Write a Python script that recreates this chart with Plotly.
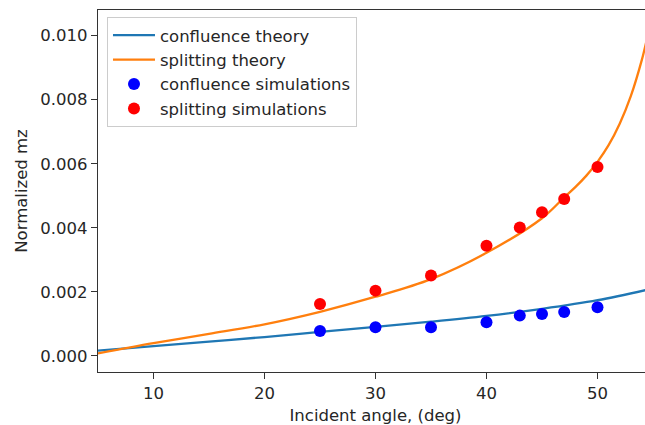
import plotly.graph_objects as go

# Theory curves
conf_theory_x = [5, 10, 15, 20, 25, 30, 35, 40, 45, 50, 55]
conf_theory_y = [0.00017, 0.00031, 0.00045, 0.00059, 0.00075, 0.00091,
                 0.00107, 0.00125, 0.00147, 0.00174, 0.00211]

split_theory_x = [5, 10, 15, 20, 25, 30, 35, 40, 45, 47, 48, 49, 50, 51, 52, 53, 54, 54.5, 55]
split_theory_y = [0.00008, 0.00040, 0.00069, 0.00099, 0.00138, 0.00185,
                  0.00240, 0.00322, 0.00430, 0.00495, 0.00527, 0.00563,
                  0.00606, 0.00658, 0.00725, 0.00811, 0.00925, 0.00997, 0.01080]

# Simulations
sim_angles = [25, 30, 35, 40, 43, 45, 47, 50]
conf_sim = [0.00078, 0.00090, 0.00090, 0.00105, 0.00126, 0.00131, 0.00137, 0.00152]
split_sim = [0.00162, 0.00204, 0.00251, 0.00344, 0.00401, 0.00449, 0.00490, 0.00590]

font = "DejaVu Sans, Liberation Sans, sans-serif"
fs = 16.5
txt = "#262626"

fig = go.Figure()
fig.add_trace(go.Scatter(x=conf_theory_x, y=conf_theory_y, mode="lines",
                         line=dict(color="#1f77b4", width=2.3, shape="spline", smoothing=1.0),
                         name="confluence theory"))
fig.add_trace(go.Scatter(x=split_theory_x, y=split_theory_y, mode="lines",
                         line=dict(color="#ff7f0e", width=2.3, shape="spline", smoothing=1.0),
                         name="splitting theory"))
fig.add_trace(go.Scatter(x=sim_angles, y=conf_sim, mode="markers",
                         marker=dict(color="blue", size=12),
                         name="confluence simulations"))
fig.add_trace(go.Scatter(x=sim_angles, y=split_sim, mode="markers",
                         marker=dict(color="red", size=12),
                         name="splitting simulations"))

axis_common = dict(showgrid=False, zeroline=False, showline=True, linecolor="#333333",
                   linewidth=1.2, ticks="outside", ticklen=6, tickcolor="#333333",
                   tickwidth=1.2,
                   tickfont=dict(family=font, size=fs, color=txt))

fig.update_layout(
    width=653, height=425,
    margin=dict(l=98, r=0, t=10, b=53),
    plot_bgcolor="white", paper_bgcolor="white",
    font=dict(family=font, size=fs, color=txt),
    xaxis=dict(range=[5, 55], tickvals=[10, 20, 30, 40, 50], mirror=True,
               title=dict(text="Incident angle, (deg)", standoff=8,
                          font=dict(family=font, size=fs, color=txt)),
               **axis_common),
    yaxis=dict(range=[-0.0005, 0.0108], tickvals=[0, 0.002, 0.004, 0.006, 0.008, 0.010],
               tickformat=".3f", mirror=False,
               title=dict(text="Normalized mz", standoff=8,
                          font=dict(family=font, size=fs, color=txt)),
               **axis_common),
    legend=dict(x=0.0162, y=0.981, xanchor="left", yanchor="top",
                bgcolor="rgba(255,255,255,0.9)", bordercolor="#cccccc", borderwidth=1,
                font=dict(family=font, size=fs, color=txt),
                itemwidth=42),
    showlegend=True,
)

fig.write_html("out.html", config={"displayModeBar": False},
               post_script="document.body.style.margin='0';document.body.style.overflow='hidden';")
